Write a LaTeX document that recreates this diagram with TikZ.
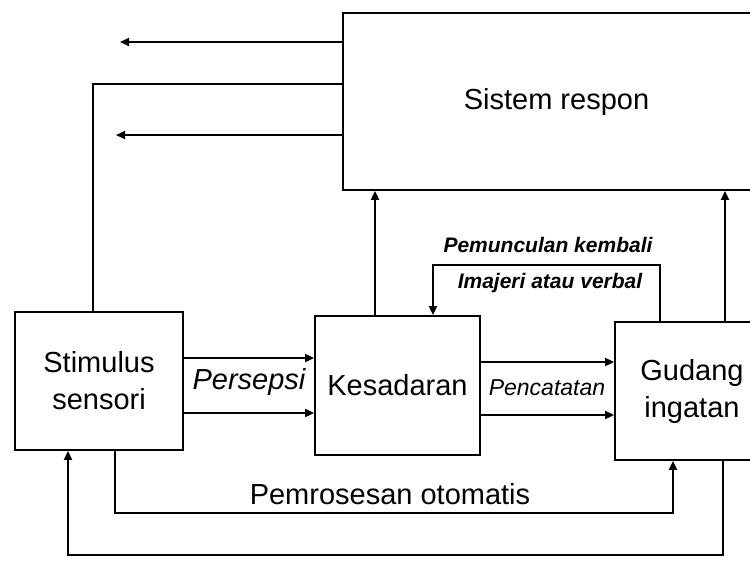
\documentclass[tikz,border=0pt]{standalone}
\usepackage{fontspec}
\setmainfont{Liberation Sans}
\usetikzlibrary{arrows.meta}
\begin{document}
\begin{tikzpicture}[x=1pt,y=-1pt,line width=1.8pt,
  box/.style={draw,line width=1.8pt,inner sep=0pt,align=center,font=\fontsize{29}{37}\selectfont},
  arr/.style={-{Triangle[length=9pt,width=8pt]}},
  lbl/.style={inner sep=0pt,align=center}]
\useasboundingbox (0,0) rectangle (750,566);
\clip (0,0) rectangle (750,566);
% boxes
\node[box,minimum width=427pt,minimum height=177pt] (resp) at (556.5,101.5) {Sistem respon};
\node[box,minimum width=168pt,minimum height=138pt] (stim) at (99,381) {Stimulus\\sensori};
\node[box,minimum width=165pt,minimum height=139pt] (kes) at (397.5,385.5) {Kesadaran};
\node[box,minimum width=154pt,minimum height=138pt] (gud) at (692,391) {Gudang\\ingatan};
% outputs of Sistem respon
\coordinate (a1) at (120,42);
\draw[arr] (resp.west |- a1) -- (a1);
\coordinate (c2) at (93,84);
\draw (resp.west |- c2) -- (c2) -- (c2 |- stim.north);
\coordinate (a3) at (116,135);
\draw[arr] (resp.west |- a3) -- (a3);
% Kesadaran -> Sistem respon
\coordinate (k1) at (375,0);
\draw[arr] (k1 |- kes.north) -- (k1 |- resp.south);
% Persepsi
\coordinate (p1) at (0,358);
\coordinate (p2) at (0,413);
\draw[arr] (stim.east |- p1) -- (kes.west |- p1);
\draw[arr] (stim.east |- p2) -- (kes.west |- p2);
\node[lbl,font=\fontsize{29}{34}\selectfont\itshape] (lp) at (249,382) {Persepsi};
% Pencatatan
\coordinate (q1) at (0,362);
\coordinate (q2) at (0,415);
\draw[arr] (kes.east |- q1) -- (gud.west |- q1);
\draw[arr] (kes.east |- q2) -- (gud.west |- q2);
\node[lbl,font=\fontsize{23}{28}\selectfont\itshape] (lc) at (547,388) {Pencatatan};
% Pemunculan kembali
\coordinate (m1) at (660,265);
\coordinate (m2) at (433,265);
\draw[arr] (m1 |- gud.north) -- (m1) -- (m2) -- (m2 |- kes.north);
\node[lbl,font=\fontsize{21}{25}\selectfont\bfseries\itshape] (lm) at (548,245) {Pemunculan kembali};
\node[lbl,font=\fontsize{21}{25}\selectfont\bfseries\itshape] (li) at (550,283) {Imajeri atau verbal};
% Gudang -> Sistem respon
\coordinate (g1) at (725,0);
\draw[arr] (g1 |- gud.north) -- (g1 |- resp.south);
% Pemrosesan otomatis
\coordinate (o1) at (115,513);
\coordinate (o2) at (673,513);
\draw[arr] (o1 |- stim.south) -- (o1) -- (o2) -- (o2 |- gud.south);
\node[lbl,font=\fontsize{29}{34}\selectfont] (lo) at (390,494) {Pemrosesan otomatis};
% feedback to Stimulus
\coordinate (f1) at (723,555);
\coordinate (f2) at (68,555);
\draw[arr] (f1 |- gud.south) -- (f1) -- (f2) -- (f2 |- stim.south);
\end{tikzpicture}
\end{document}
